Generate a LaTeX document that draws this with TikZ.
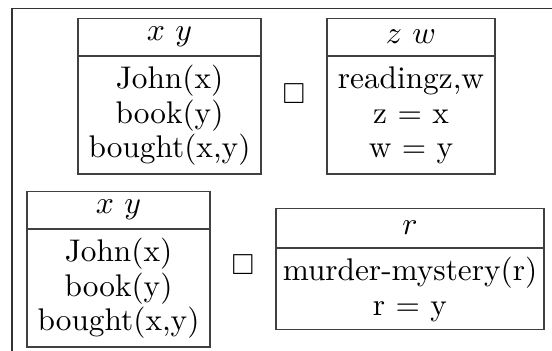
\documentclass[tikz,border=0pt]{standalone}
\usepackage{amssymb}
\usetikzlibrary{positioning}

\begin{document}
\begin{tikzpicture}[x=0.345pt,y=-0.345pt,
    drsvars/.style={draw=black!75,minimum width=#1,minimum height=12.8pt,
      inner sep=0pt,anchor=north,font=\fontsize{10.8}{11.9}\selectfont},
    drsconds/.style={draw=black!75,minimum width=#1,minimum height=40.4pt,
      inner sep=0pt,align=center,font=\fontsize{10.8}{11.9}\selectfont},
    merge/.style={inner sep=0pt}]
  \useasboundingbox (0,0) rectangle (552,351);
  \draw[black!80,line width=0.5pt] (12,351) -- (12,8.5) -- (552,8.5);
  % first line
  \node[drsvars=63.1pt] (buy1h) at (169.5,18) {$x\ y$};
  \node[drsconds=63.1pt,below=0pt of buy1h] (buy1)
    {John(x)\\ book(y)\\ bought(x,y)};
  \node[merge] (merge1) at (294,94) {$\square$};
  \node[drsvars=58pt] (readh) at (411,18) {$z\ w$};
  \node[drsconds=58pt,below=0pt of readh] (read)
    {readingz,w\\ z = x\\ w = y};
  % second line
  \node[drsvars=63.1pt] (buy2h) at (118.5,191) {$x\ y$};
  \node[drsconds=63.1pt,below=0pt of buy2h] (buy2)
    {John(x)\\ book(y)\\ bought(x,y)};
  \node[merge] (merge2) at (243,265) {$\square$};
  \node[drsvars=92.5pt,minimum height=13.5pt] (crimeh) at (410,208) {$r$};
  \node[drsconds=92.5pt,minimum height=27.9pt,below=0pt of crimeh] (crime)
    {murder-mystery(r)\\ r = y};
\end{tikzpicture}
\end{document}
